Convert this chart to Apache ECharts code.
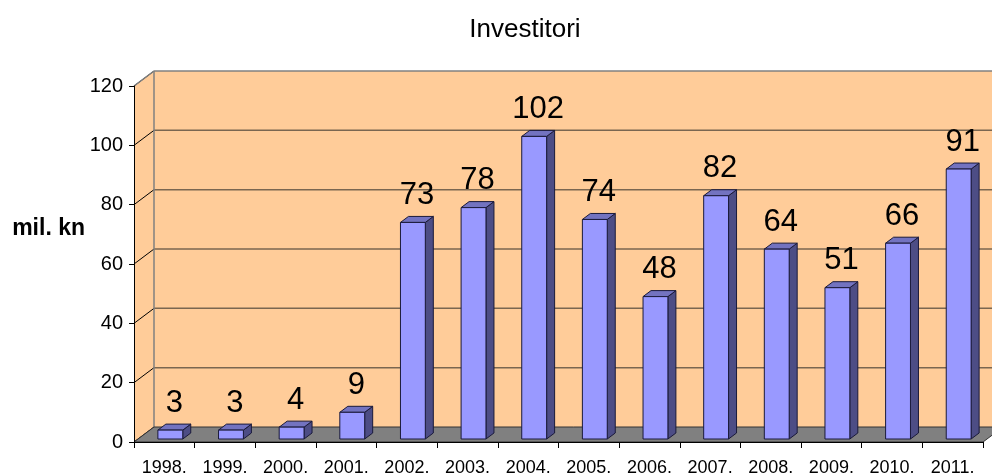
<!DOCTYPE html>
<html><head><meta charset="utf-8">
<script src="https://cdn.jsdelivr.net/npm/echarts@6/dist/echarts.min.js"></script>
<style>html,body{margin:0;padding:0;background:#fff}#c{width:992px;height:474px}</style>
</head><body><div id="c"></div>
<script>
// ---- data ----
const categories = ['1998.','1999.','2000.','2001.','2002.','2003.','2004.','2005.','2006.','2007.','2008.','2009.','2010.','2011.'];
const values = [3, 3, 4, 9, 73, 78, 102, 74, 48, 82, 64, 51, 66, 91];
const yTicks = [0, 20, 40, 60, 80, 100, 120];
const titleText = 'Investitori';
const yAxisName = 'mil. kn';

// ---- styling ----
const FONT = '"Liberation Sans", Arial, sans-serif';
const WALL_DX = 20, WALL_DY = -15;
const BAR_FX = 6, BAR_FY = -3, BAR_DX = 8, BAR_DY = -6, BAR_W_RATIO = 0.41;

const yMin = yTicks[0], yMax = yTicks[yTicks.length - 1], yStep = yTicks[1] - yTicks[0];

function renderWalls(params, api) {
  const cs = params.coordSys;
  const x0 = cs.x, x1 = cs.x + cs.width;
  const yb = api.coord([0, yMin])[1], yt = api.coord([0, yMax])[1];
  const far = x1 + WALL_DX + 200;
  const ch = [];
  ch.push({type:'polygon', shape:{points:[[x0+WALL_DX,yt+WALL_DY],[far,yt+WALL_DY],[far,yb+WALL_DY],[x0+WALL_DX,yb+WALL_DY]]}, style:{fill:'#FFCC99'}});
  ch.push({type:'polygon', shape:{points:[[x0,yb],[x0,yt],[x0+WALL_DX,yt+WALL_DY],[x0+WALL_DX,yb+WALL_DY]]}, style:{fill:'#FFCC99'}});
  yTicks.forEach(function (v) {
    const y = api.coord([0, v])[1];
    if (v !== yMin && v !== yMax) {
      ch.push({type:'line', shape:{x1:x0+WALL_DX, y1:y+WALL_DY, x2:far, y2:y+WALL_DY}, style:{stroke:'#7a6650', lineWidth:1.5}});
    }
    ch.push({type:'line', shape:{x1:x0, y1:y, x2:x0+WALL_DX, y2:y+WALL_DY}, style:{stroke:'#000', lineWidth:1}});
  });
  ch.push({type:'line', shape:{x1:x0+WALL_DX, y1:yt+WALL_DY, x2:far, y2:yt+WALL_DY}, style:{stroke:'#808080', lineWidth:1.5}});
  ch.push({type:'line', shape:{x1:x0+WALL_DX, y1:yt+WALL_DY, x2:x0+WALL_DX, y2:yb+WALL_DY}, style:{stroke:'#808080', lineWidth:1.5}});
  ch.push({type:'line', shape:{x1:x0, y1:yt, x2:x0+WALL_DX, y2:yt+WALL_DY}, style:{stroke:'#808080', lineWidth:1.5}});
  ch.push({type:'polygon', shape:{points:[[x0,yb],[x1,yb],[x1+WALL_DX,yb+WALL_DY],[x0+WALL_DX,yb+WALL_DY]]}, style:{fill:'#808080', stroke:'#333', lineWidth:1}});
  return {type:'group', children: ch};
}

function renderBars(params, api) {
  const i = api.value(0), v = api.value(1);
  const p0 = api.coord([i, 0]), p1 = api.coord([i, v]);
  const bw = api.size([1, 0])[0] * BAR_W_RATIO;
  const l = p0[0] - bw / 2 + BAR_FX, r = l + bw;
  const b = p0[1] + BAR_FY, t = p1[1] + BAR_FY;
  const stroke = {stroke:'#1a1a3a', lineWidth:1, lineJoin:'round'};
  return {type:'group', children:[
    {type:'polygon', shape:{points:[[r,t],[r+BAR_DX,t+BAR_DY],[r+BAR_DX,b+BAR_DY],[r,b]]}, style:Object.assign({fill:'#4D4D85'}, stroke)},
    {type:'polygon', shape:{points:[[l,t],[l+BAR_DX,t+BAR_DY],[r+BAR_DX,t+BAR_DY],[r,t]]}, style:Object.assign({fill:'#7373C0'}, stroke)},
    {type:'polygon', shape:{points:[[l,t],[r,t],[r,b],[l,b]]}, style:Object.assign({fill:'#9999FF'}, stroke)},
    {type:'text', style:{x:(l + r + BAR_DX) / 2, y:t + BAR_DY - 21, text:String(values[i]), fill:'#000', font:'31px ' + FONT, align:'center', verticalAlign:'middle'}}
  ]};
}

const chart = echarts.init(document.getElementById('c'), null, {renderer:'canvas'});
chart.setOption({
  animation: false,
  backgroundColor: '#fff',
  title: {text: titleText, left: 520, top: 12, textAlign: 'center',
    textStyle: {fontFamily: FONT, fontSize: 26, fontWeight: 'normal', color: '#000'}},
  graphic: [{type:'text', x: 85, y: 229, style:{text: yAxisName, font:'bold 23px ' + FONT, fill:'#000', align:'right', verticalAlign:'middle'}}],
  grid: {left: 134, right: 9, top: 86, bottom: 32, containLabel: false, outerBoundsMode: 'none'},
  xAxis: {type:'category', data: categories, z: 5,
    axisLine:{lineStyle:{color:'#000', width:1}},
    axisTick:{show:true, length:6, lineStyle:{color:'#000'}},
    axisLabel:{color:'#000', fontFamily: FONT, fontSize:18, margin:17},
    splitLine:{show:false}},
  yAxis: {type:'value', min: yMin, max: yMax, interval: yStep, z: 5,
    axisLine:{show:true, lineStyle:{color:'#000', width:1}},
    axisTick:{show:true, length:5, lineStyle:{color:'#000'}},
    axisLabel:{color:'#000', fontFamily: FONT, fontSize:20, margin:11},
    splitLine:{show:false}},
  series: [
    {type:'custom', z: 1, silent: true, renderItem: renderWalls, data: [[0, 0]], clip: false},
    {type:'custom', z: 3, renderItem: renderBars, data: values.map(function (v, i) { return [i, v]; }), clip: false}
  ]
});
</script></body></html>
